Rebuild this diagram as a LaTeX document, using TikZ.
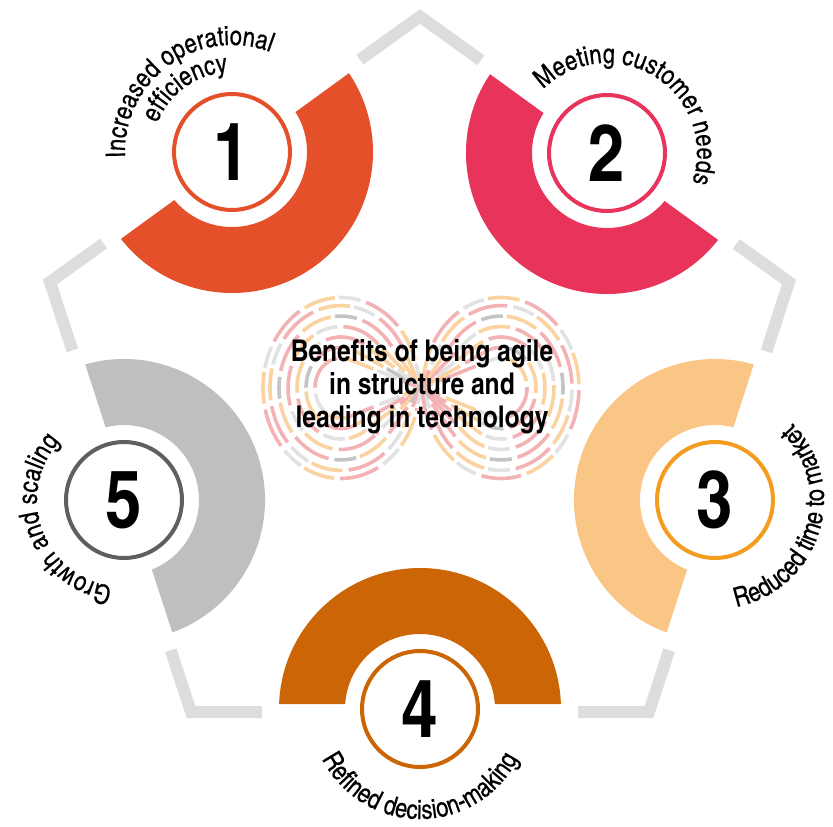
\documentclass[tikz,border=0pt]{standalone}
\usepackage{fontspec}
\setmainfont{texgyreheroscn}[Extension=.otf, UprightFont=*-regular, BoldFont=*-bold]
\newfontfamily\lblface{texgyreheroscn-regular.otf}[FakeBold=0.4]
\usepackage{xcolor}
\usetikzlibrary{calc,decorations.text}

\definecolor{effred}{HTML}{E4502A}
\definecolor{needred}{HTML}{E8345A}
\definecolor{timeorange}{HTML}{F9C686}
\definecolor{timering}{HTML}{F39C1F}
\definecolor{decbrown}{HTML}{CC6505}
\definecolor{growgray}{HTML}{BFBFBF}
\definecolor{growring}{HTML}{5F5F5F}
\definecolor{edgegray}{HTML}{DDDDDC}
\definecolor{loopPink}{HTML}{F3B2B4}
\definecolor{loopOrange}{HTML}{FAD3A0}
\definecolor{loopGray}{HTML}{E2E2E2}
\definecolor{loopDark}{HTML}{C4C4C4}

\newcommand{\lblfont}{\lblface\fontsize{27}{29}\selectfont}
\newcommand{\numfont}{\bfseries\fontsize{80}{80}\selectfont}

\tikzset{
  edgeline/.style={line width=12pt, draw=edgegray, line join=miter},
  strand/.style={line width=3.6pt},
  arclabel/.style={decorate, decoration={text along path, text align=center, text={|\lblfont|#1}}},
}

\begin{document}
\begin{tikzpicture}[x=1pt, y=1pt]
    \useasboundingbox (0,0) rectangle (833,-827);
    % Pentagon corners
    \coordinate (T) at (420,-16.5);
    \coordinate (L) at (50,-282);
    \coordinate (R) at (789,-282);
    \coordinate (BL) at (191,-712);
    \coordinate (BR) at (649,-712);
    \draw[edgeline] ($(T)!74pt!(L)$) -- (T) -- ($(T)!75pt!(R)$);
    \draw[edgeline] ($(L)!66pt!(T)$) -- (L) -- ($(L)!72pt!(BL)$);
    \draw[edgeline] ($(R)!65pt!(T)$) -- (R) -- ($(R)!73pt!(BR)$);
    \draw[edgeline] ($(BL)!65pt!(L)$) -- (BL) -- ($(BL)!71pt!(BR)$);
    \draw[edgeline] ($(BR)!71pt!(BL)$) -- (BR) -- ($(BR)!65pt!(R)$);
    % Ring centres
    \coordinate (c1) at (232,-152);
    \coordinate (c2) at (607,-153);
    \coordinate (c3) at (715,-500);
    \coordinate (c4) at (420,-709);
    \coordinate (c5) at (124,-500);
    % Infinity loop of dashed strands
    \begin{scope}[shift={(421,-388)}, yscale=1.16]
      \coordinate (lc) at (-80,0);
      \coordinate (rc) at (80,0);
      \foreach \r/\third [evaluate=\r as \p using {asin(\r/80)}, evaluate=\r as \s using {\r*9}] in
          {26/loopGray, 35/loopDark, 44/loopGray, 53/loopGray, 62/loopDark, 71/loopGray, 78/loopGray}{
        \foreach \col/\on/\ph in {loopPink/40/0, \third/22/64, loopOrange/32/38}
          \draw[strand, \col, dash pattern=on \on pt off {110-\on}pt, dash phase={\ph+\s}]
            ($(lc)+(\p-90:\r)$) -- ($(rc)+(90+\p:\r)$)
            arc[start angle=90+\p, end angle=-90-\p, radius=\r]
            -- ($(lc)+(90-\p:\r)$)
            arc[start angle=90-\p, end angle=270+\p, radius=\r] -- cycle;
      }
    \end{scope}
    % Half bands facing the middle
    \foreach \c/\rot/\col in {c1/-144/effred, c2/144/needred, c3/72/timeorange, c4/0/decbrown, c5/-72/growgray}
      \fill[\col, shift={(\c)}, rotate=\rot] (2.03:141) arc[start angle=2.03, end angle=177.97, radius=141]
        -- (176.18:75) arc[start angle=176.18, end angle=3.82, radius=75] -- cycle;
    % Numbered rings
    \foreach \c/\col/\n in {c1/effred/1, c2/needred/2, c3/timering/3, c4/decbrown/4, c5/growring/5}{
      \draw[\col, line width=4pt, fill=white] (\c) circle[radius=58];
      \node[font=\numfont] (n\n) at (\c) {\n};
    }
    % Title
    \node[align=center, font=\bfseries\fontsize{30}{32.8}\selectfont] (title) at (422,-387)
      {Benefits of being agile\\in structure and\\leading in technology};
    % Curved captions
    \path[arclabel={Increased operational}] ($(c1)+(216:107)$) arc[start angle=216, end angle=36, radius=107];
    \path[arclabel={efficiency}] ($(c1)+(216:80)$) arc[start angle=216, end angle=36, radius=80];
    \path[arclabel={Meeting customer needs}] ($(c2)+(148:90)$) arc[start angle=148, end angle=-32, radius=90];
    \path[arclabel={Reduced time to market}] ($(c3)+(-107:109)$) arc[start angle=-107, end angle=73, radius=109];
    \path[arclabel={Refined decision-making}] ($(c4)+(-180:110)$) arc[start angle=-180, end angle=0, radius=110];
    \path[arclabel={Growth and scaling}] ($(c5)+(290:87)$) arc[start angle=290, end angle=110, radius=87];
\end{tikzpicture}
\end{document}
